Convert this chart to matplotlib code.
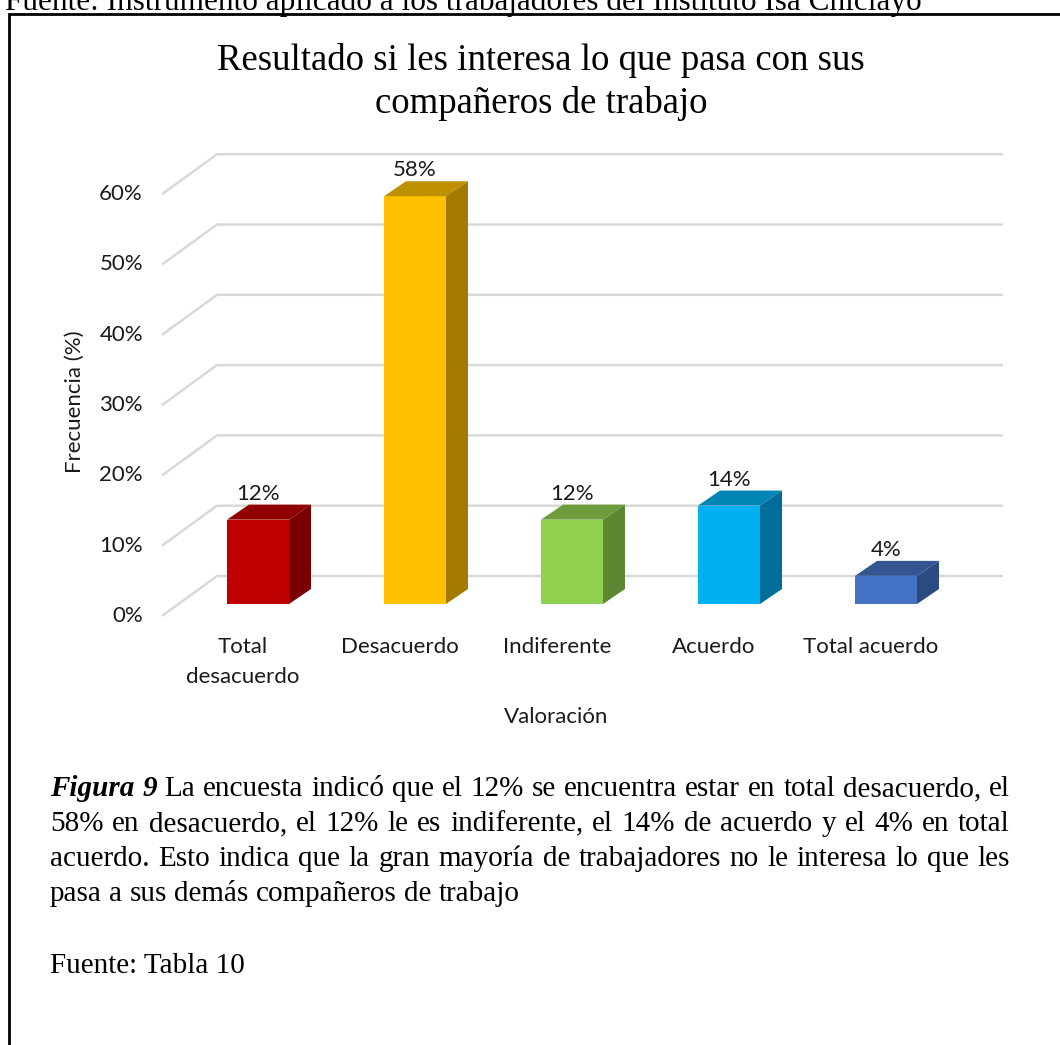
import matplotlib.pyplot as plt
from matplotlib.patches import Polygon, Rectangle

# encuesta: interés por lo que pasa con los compañeros
categories = ["Total\ndesacuerdo", "Desacuerdo", "Indiferente", "Acuerdo", "Total acuerdo"]
values = [12, 58, 12, 14, 4]
yticks = [0, 10, 20, 30, 40, 50, 60]

front_colors = ["#C00000", "#FFC000", "#92D050", "#00B0F0", "#4472C4"]
top_colors = ["#900000", "#BF9000", "#6E9C3C", "#0085B4", "#335693"]
side_colors = ["#7A0000", "#A37B00", "#5E8733", "#006E99", "#2B4A80"]

W, H = 1060, 1045
fig = plt.figure(figsize=(W / 100, H / 100), dpi=100)
fig.patch.set_facecolor("white")

def fx(px):
    return px / W

def fy(py):
    return 1 - py / H

serif = "Liberation Serif"
sans = "Lato"
fs = 16

# caja del recuadro
fig.add_artist(Rectangle((fx(9), fy(1100)), fx(1100) - fx(9), fy(14) - fy(1100),
                         transform=fig.transFigure, fill=False, lw=2.0, ec="black"))
fig.text(fx(5), fy(10), "Fuente: Instrumento aplicado a los trabajadores del Instituto Isa Chiclayo",
         family=serif, fontsize=22.5, ha="left", va="baseline")

# eje del grafico, 157 px por categoria y 7.03 px por punto porcentual
PXX, PXY = 157.0, 7.03
ax_l, ax_r, ax_t, ax_b = 150, 1010, 140, 640
ax = fig.add_axes([fx(ax_l), fy(ax_b), fx(ax_r) - fx(ax_l), fy(ax_t) - fy(ax_b)])
ax.set_xlim((ax_l - 258) / PXX, (ax_r - 258) / PXX)
ax.set_ylim((604 - ax_b) / PXY, (604 - ax_t) / PXY)
ax.axis("off")

# profundidad del piso y de las barras
floor_front = -12 / PXY
floor_back = 28 / PXY
gx_front = (162 - 258) / PXX
gx_back = (217 - 258) / PXX
gx_right = (1003 - 258) / PXX
bar_w = 62 / PXX
dx, dy = 22 / PXX, 15 / PXY

for t in yticks:
    ax.plot([gx_front, gx_back, gx_right], [t + floor_front, t + floor_back, t + floor_back],
            color="#d9d9d9", lw=1.8, zorder=1, solid_capstyle="butt")
    ax.text((143 - 258) / PXX, t + floor_front, f"{t}%", ha="right", va="center",
            family=sans, fontsize=fs, color="#1a1a1a")

xs = list(range(len(values)))
ax.bar(xs, values, width=bar_w, color=front_colors, zorder=3)
for i, v in enumerate(values):
    x0, x1 = i - bar_w / 2, i + bar_w / 2
    ax.add_patch(Polygon([(x0, v), (x1, v), (x1 + dx, v + dy), (x0 + dx, v + dy)],
                         closed=True, fc=top_colors[i], ec="none", zorder=3))
    ax.add_patch(Polygon([(x1, 0), (x1 + dx, dy), (x1 + dx, v + dy), (x1, v)],
                         closed=True, fc=side_colors[i], ec="none", zorder=3))
    ax.text(i, v + dy + 0.15, f"{v}%", ha="center", va="bottom",
            family=sans, fontsize=fs, color="#1a1a1a", zorder=4)
    ax.text(i - 15 / PXX, (604 - 637) / PXY, categories[i], ha="center", va="top",
            family=sans, fontsize=fs, color="#1a1a1a", linespacing=1.6)

fig.text(fx(556), fy(717), "Valoración", ha="center", va="center",
         family=sans, fontsize=fs, color="#1a1a1a")
fig.text(fx(75), fy(402), "Frecuencia (%)", ha="center", va="center", rotation=90,
         family=sans, fontsize=fs, color="#1a1a1a")

fig.text(fx(541), fy(82), "Resultado si les interesa lo que pasa con sus\ncompañeros de trabajo",
         ha="center", va="center", family=serif, fontsize=26.5, linespacing=1.3)

# pie de figura con texto justificado
fig.canvas.draw()
renderer = fig.canvas.get_renderer()
cap_size = 21
left, right = 50, 1010
lines = [
    [("Figura", "bolditalic"), ("9", "bolditalic")] +
    [(w, "") for w in "La encuesta indicó que el 12% se encuentra estar en total desacuerdo, el".split()],
    [(w, "") for w in "58% en desacuerdo, el 12% le es indiferente, el 14% de acuerdo y el 4% en total".split()],
    [(w, "") for w in "acuerdo. Esto indica que la gran mayoría de trabajadores no le interesa lo que les".split()],
    [(w, "") for w in "pasa a sus demás compañeros de trabajo".split()],
]
baselines = [796, 831, 866, 901]
for k, (words, yy) in enumerate(zip(lines, baselines)):
    arts = []
    for w, st in words:
        kw = dict(family=serif, fontsize=cap_size, va="baseline", ha="left")
        if st == "bolditalic":
            kw.update(weight="bold", style="italic")
        arts.append(fig.text(fx(left), fy(yy), w, **kw))
    widths = [a.get_window_extent(renderer).width for a in arts]
    space = renderer.points_to_pixels(cap_size) * 0.25
    if k < 3:
        space = (right - left - sum(widths)) / (len(arts) - 1)
    xcur = left
    for a, wd in zip(arts, widths):
        a.set_x(fx(xcur))
        xcur += wd + space

fig.text(fx(left), fy(973), "Fuente: Tabla 10", family=serif, fontsize=cap_size,
         ha="left", va="baseline")

fig.savefig("out.png", dpi=100)
